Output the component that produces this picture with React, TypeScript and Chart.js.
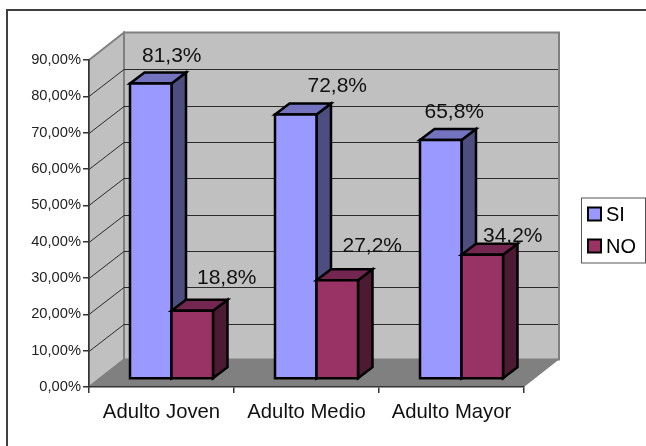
import React, { useEffect, useRef } from "react";
import { Chart, registerables } from "chart.js";

Chart.register(...registerables);

const categories = ["Adulto Joven", "Adulto Medio", "Adulto Mayor"];
const siValues = [81.3, 72.8, 65.8];
const noValues = [18.8, 27.2, 34.2];
const seriesNames = ["SI", "NO"];

const FONT = "'Liberation Sans', Arial, sans-serif";
const wallDepth = { x: 35, y: -27.5 };
const barShift = { x: 10, y: -8 };
const barDepth = { x: 14.5, y: -11 };
const labelNudge = [
  [{ x: 21, y: -22 }, { x: 34.5, y: -27 }],
  [{ x: 41.5, y: -22 }, { x: 35, y: -28 }],
  [{ x: 13.5, y: -22 }, { x: 30.5, y: -13 }],
];
const faces = [
  { front: "#9999FF", side: "#4D4D80", top: "#7373BF" },
  { front: "#993366", side: "#4D1A33", top: "#732650" },
];
const OUTLINE = 2.5;

const fmt = (v: number) => v.toFixed(1).replace(".", ",") + "%";

function poly(ctx: any, pts: number[][], fill?: string, stroke?: string, lw = 1) {
  ctx.beginPath();
  pts.forEach((p, i) => (i ? ctx.lineTo(p[0], p[1]) : ctx.moveTo(p[0], p[1])));
  ctx.closePath();
  if (fill) {
    ctx.fillStyle = fill;
    ctx.fill();
  }
  if (stroke) {
    ctx.strokeStyle = stroke;
    ctx.lineWidth = lw;
    ctx.lineJoin = "miter";
    ctx.stroke();
  }
}

const stagePlugin = {
  id: "stage",
  afterLayout(chart: any) {
    const lg = chart.legend;
    if (lg) {
      const w = lg.right - lg.left;
      const h = lg.bottom - lg.top;
      lg.left = 572;
      lg.top = 193;
      lg.right = lg.left + w;
      lg.bottom = lg.top + h;
    }
  },
  beforeDraw(chart: any) {
    const { ctx, scales } = chart;
    const { left, right, top, bottom } = chart.chartArea;
    const d = wallDepth;
    ctx.save();
    ctx.strokeStyle = "#404040";
    ctx.lineWidth = 2;
    ctx.beginPath();
    ctx.moveTo(7, 446);
    ctx.lineTo(7, 10);
    ctx.lineTo(646, 10);
    ctx.stroke();
    poly(ctx, [[left + d.x, top + d.y], [right + d.x, top + d.y], [right + d.x, bottom + d.y], [left + d.x, bottom + d.y]], "#C0C0C0", "#808080", 2);
    poly(ctx, [[left, top], [left + d.x, top + d.y], [left + d.x, bottom + d.y], [left, bottom]], "#C0C0C0", "#808080", 2);
    poly(ctx, [[left, bottom], [left + d.x, bottom + d.y], [right + d.x, bottom + d.y], [right, bottom]], "#808080");
    ctx.strokeStyle = "#2a2a2a";
    ctx.lineWidth = 1;
    scales.y.ticks.forEach((t: any) => {
      if (t.value === 0 || t.value === 90) return;
      const y = Math.round(scales.y.getPixelForValue(t.value)) + 0.5;
      ctx.beginPath();
      ctx.moveTo(left, y);
      ctx.lineTo(left + d.x, Math.round(y + d.y) + 0.5);
      ctx.lineTo(right + d.x - 1, Math.round(y + d.y) + 0.5);
      ctx.stroke();
    });
    ctx.restore();
  },
  beforeDatasetsDraw(chart: any) {
    const { ctx } = chart;
    // series are painted left to right so each bar's front covers its neighbour's side face
    chart.data.datasets.forEach((_ds: any, di: number) => {
      const meta = chart.getDatasetMeta(di);
      const c = faces[di];
      ctx.save();
      ctx.translate(barShift.x, barShift.y);
      meta.data.forEach((el: any) => {
        const { x, y, base, width } = el.getProps(["x", "y", "base", "width"], true);
        const l = x - width / 2;
        const r = x + width / 2;
        const dx = barDepth.x;
        const dy = barDepth.y;
        poly(ctx, [[r, y], [r + dx, y + dy], [r + dx, base + dy], [r, base]], c.side, "#000", OUTLINE);
        poly(ctx, [[l, y], [l + dx, y + dy], [r + dx, y + dy], [r, y]], c.top, "#000", OUTLINE);
      });
      meta.controller.draw();
      meta.data.forEach((el: any) => {
        const { x, y, base, width } = el.getProps(["x", "y", "base", "width"], true);
        poly(ctx, [[x - width / 2, y], [x + width / 2, y], [x + width / 2, base], [x - width / 2, base]], undefined, "#000", OUTLINE);
      });
      ctx.restore();
    });
    ctx.save();
    ctx.fillStyle = "#111";
    ctx.font = `21px ${FONT}`;
    ctx.textAlign = "center";
    ctx.textBaseline = "alphabetic";
    chart.data.datasets.forEach((ds: any, di: number) => {
      chart.getDatasetMeta(di).data.forEach((el: any, i: number) => {
        const { x, y } = el.getProps(["x", "y"], true);
        const n = labelNudge[i][di];
        ctx.fillText(fmt(ds.data[i]), x + barShift.x + n.x, y + barShift.y + n.y);
      });
    });
    ctx.restore();
    return false;
  },
  afterDraw(chart: any) {
    const lg = chart.legend;
    if (!lg) return;
    const { ctx } = chart;
    ctx.save();
    ctx.strokeStyle = "#555";
    ctx.lineWidth = 1;
    ctx.strokeRect(581.5, 198, 64, 65);
    lg.legendItems.forEach((item: any, i: number) => {
      const y = 207.5 + i * 32;
      ctx.fillStyle = faces[i].front;
      ctx.fillRect(588, y, 13, 13);
      ctx.strokeStyle = "#000";
      ctx.lineWidth = 2;
      ctx.strokeRect(588, y, 13, 13);
    });
    ctx.restore();
  },
};

export default function App() {
  const ref = useRef<HTMLCanvasElement>(null);
  useEffect(() => {
    document.body.style.margin = "0";
    document.body.style.background = "#fff";
    const chart = new Chart(ref.current as HTMLCanvasElement, {
      type: "bar",
      data: {
        labels: categories,
        datasets: [
          { label: seriesNames[0], data: siValues, backgroundColor: faces[0].front, borderWidth: 0 },
          { label: seriesNames[1], data: noValues, backgroundColor: faces[1].front, borderWidth: 0 },
        ],
      } as any,
      options: {
        animation: false,
        responsive: false,
        events: [],
        layout: { padding: { left: 0, top: 60, right: 122, bottom: 0 } },
        categoryPercentage: 83 / 145,
        barPercentage: 1,
        scales: {
          x: {
            grid: { drawOnChartArea: false, drawTicks: true, tickLength: 6, color: "#333", lineWidth: 1.5, offset: true },
            border: { color: "#333", width: 1.5 },
            ticks: { color: "#111", font: { family: FONT, size: 20.3 }, padding: 7, maxRotation: 0 },
            afterFit: (s: any) => { s.height = 59; },
          },
          y: {
            min: 0,
            max: 90,
            grid: { drawOnChartArea: false, drawTicks: true, tickLength: 6, color: "#333", lineWidth: 1.5 },
            border: { color: "#333", width: 1.5 },
            ticks: {
              stepSize: 10,
              color: "#222",
              font: { family: FONT, size: 14.7 },
              padding: 2,
              callback: (v: any) => Number(v).toFixed(2).replace(".", ",") + "%",
            },
            afterFit: (s: any) => { s.width = 89; },
          },
        },
        plugins: {
          title: { display: false },
          tooltip: { enabled: false },
          legend: {
            display: true,
            position: "chartArea",
            align: "start",
            labels: {
              color: "#111",
              font: { family: FONT, size: 20 },
              boxWidth: 12,
              boxHeight: 12,
              padding: 12,
              generateLabels: (c: any) =>
                c.data.datasets.map((ds: any, i: number) => ({
                  text: ds.label,
                  fillStyle: "rgba(0,0,0,0)",
                  strokeStyle: "rgba(0,0,0,0)",
                  lineWidth: 0,
                  datasetIndex: i,
                  hidden: false,
                })),
            },
          },
        },
      } as any,
      plugins: [stagePlugin as any],
    });
    return () => chart.destroy();
  }, []);
  return <canvas ref={ref} width={646} height={446} style={{ display: "block", width: 646, height: 446 }} />;
}
